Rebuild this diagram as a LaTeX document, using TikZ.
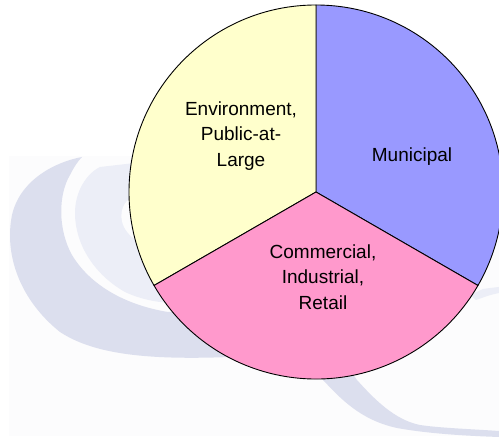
\documentclass[tikz,border=0pt]{standalone}
\usepackage{fontspec}
\setmainfont{Liberation Sans}
\definecolor{bgpale}{HTML}{FCFCFD}
\definecolor{swirldark}{HTML}{DCDFEE}
\definecolor{swirllight}{HTML}{ECEEF7}
\definecolor{muni}{HTML}{9999FF}
\definecolor{envi}{HTML}{FFFFCC}
\definecolor{comm}{HTML}{FF99CC}
\tikzset{
  slice/.style={draw=black, line width=0.9pt, line join=round},
  lbl/.style={align=center, font=\fontsize{19}{25.5}\selectfont, text=black, inner sep=0pt}
}
\begin{document}
\begin{tikzpicture}[x=1pt,y=1pt]
\useasboundingbox (0,0) rectangle (499,441);
\clip (0,0) rectangle (499,441);
\fill[white] (0,0) rectangle (499,441);
% faded background logo (image pixel coordinates, y downwards)
\begin{scope}[shift={(0,441)}, yscale=-1]
  \fill[bgpale] (9,156) rectangle (499,436);
  \fill[swirldark] (82,157) .. controls (55,162) and (20,180) .. (12,215)
     .. controls (4,255) and (20,300) .. (60,332)
     .. controls (95,355) and (150,360) .. (230,357)
     -- (280,350) -- (318,372) -- (323,380)
     .. controls (340,398) and (360,420) .. (397,428)
     .. controls (430,434) and (470,436) .. (499,437)
     -- (499,431)
     .. controls (470,429) and (440,428) .. (420,425)
     .. controls (395,420) and (375,400) .. (357,380)
     -- (350,370) -- (250,300) -- (200,312) -- (168,312)
     .. controls (125,305) and (90,285) .. (72,255)
     .. controls (58,230) and (58,195) .. (70,175)
     .. controls (74,167) and (78,161) .. (82,157) -- cycle;
  \fill[swirllight] (135,163) -- (100,167)
     .. controls (86,174) and (75,192) .. (75,213)
     .. controls (75,245) and (95,275) .. (125,292)
     .. controls (140,299) and (155,302) .. (170,303)
     -- (220,280) -- cycle;
  \fill[bgpale] (128,200) .. controls (119,208) and (118,225) .. (132,237)
     .. controls (140,244) and (150,247) .. (165,248)
     -- (200,230) -- (150,195) -- cycle;
  \fill[swirllight] (470,295) -- (483,289) .. controls (490,288) .. (499,287)
     -- (499,293) .. controls (490,295) .. (476,300) -- cycle;
\end{scope}
% pie chart
\coordinate (c) at (316,249);
\filldraw[slice, fill=muni] (c) -- ++(90:187pt) arc[start angle=90, end angle=-30, radius=187pt] -- cycle;
\filldraw[slice, fill=envi] (c) -- ++(90:187pt) arc[start angle=90, end angle=210, radius=187pt] -- cycle;
\filldraw[slice, fill=comm] (c) -- ++(210:187pt) arc[start angle=210, end angle=330, radius=187pt] -- cycle;
\node[lbl] (env) at (241,305) {Environment,\\Public-at-\\Large};
\node[lbl] (mun) at (412,284) {Municipal};
\node[lbl] (com) at (323,164) {Commercial,\\Industrial,\\Retail};
\end{tikzpicture}
\end{document}
